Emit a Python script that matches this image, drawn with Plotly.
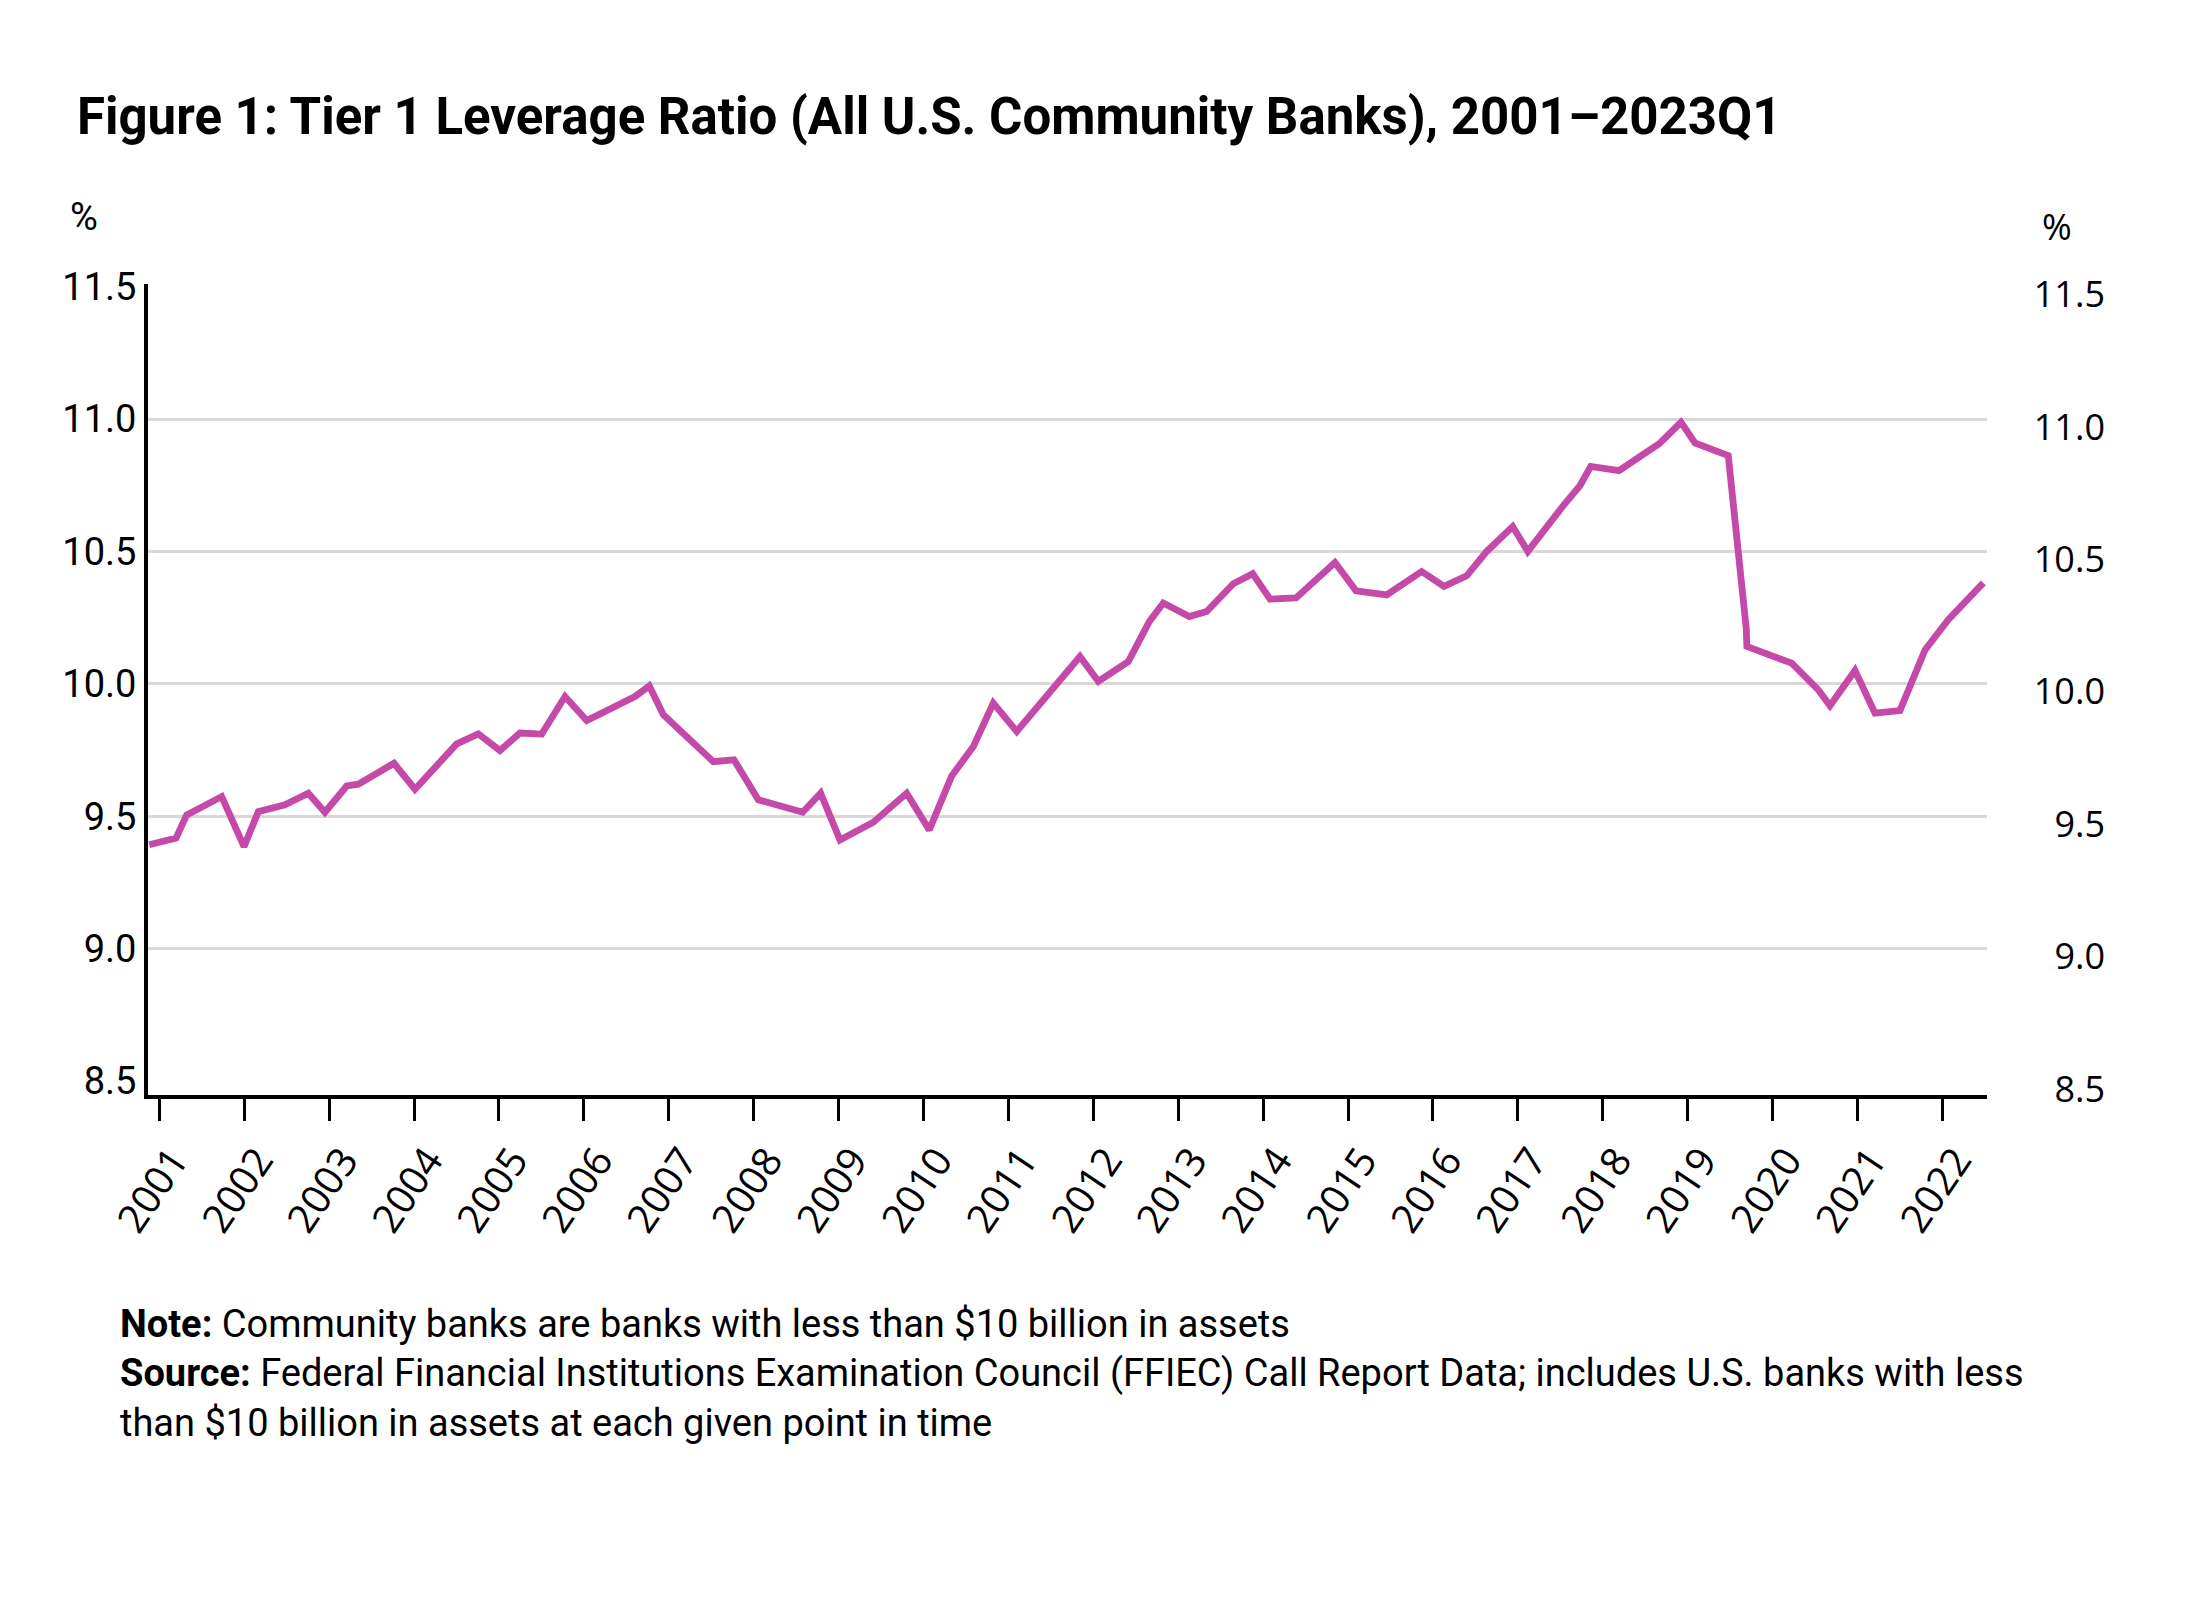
import plotly.graph_objects as go

# quarterly readings of the line (fractional year, percent)
years = [
    2000.882, 2001.197, 2001.323, 2001.735, 2001.998, 2002.166, 2002.480, 2002.755,
    2002.951, 2003.207, 2003.344, 2003.764, 2004.011, 2004.503, 2004.757, 2005.012,
    2005.248, 2005.504, 2005.778, 2006.034, 2006.602, 2006.771, 2006.936, 2007.525,
    2007.768, 2008.055, 2008.577, 2008.789, 2009.017, 2009.409, 2009.802, 2010.068,
    2010.332, 2010.587, 2010.822, 2011.098, 2011.843, 2012.059, 2012.412, 2012.659,
    2012.824, 2013.131, 2013.335, 2013.649, 2013.877, 2014.081, 2014.387, 2014.846,
    2015.094, 2015.455, 2015.867, 2016.130, 2016.398, 2016.633, 2016.939, 2017.117,
    2017.535, 2017.731, 2017.858, 2018.191, 2018.666, 2018.921, 2019.086, 2019.478,
    2019.690, 2019.697, 2020.225, 2020.539, 2020.676, 2020.970, 2021.206, 2021.500,
    2021.795, 2022.069, 2022.482,
]
ratio = [
    9.392, 9.417, 9.505, 9.574, 9.385, 9.517, 9.543, 9.587,
    9.515, 9.614, 9.621, 9.700, 9.602, 9.773, 9.811, 9.748,
    9.814, 9.810, 9.952, 9.861, 9.952, 9.992, 9.883, 9.706,
    9.713, 9.562, 9.515, 9.587, 9.410, 9.477, 9.587, 9.448,
    9.652, 9.763, 9.927, 9.820, 10.103, 10.009, 10.084, 10.235,
    10.305, 10.254, 10.273, 10.378, 10.416, 10.320, 10.324, 10.458,
    10.351, 10.336, 10.424, 10.368, 10.408, 10.500, 10.594, 10.500,
    10.673, 10.748, 10.821, 10.805, 10.907, 10.988, 10.910, 10.862,
    10.207, 10.141, 10.078, 9.977, 9.917, 10.050, 9.889, 9.899,
    10.128, 10.242, 10.381,
]

tick_years = list(range(2001, 2023))
tick_labels = [str(y) for y in tick_years]
y_ticks = [8.5, 9.0, 9.5, 10.0, 10.5, 11.0, 11.5]
grid_ticks = [9.0, 9.5, 10.0, 10.5, 11.0]

title = "Figure 1: Tier 1 Leverage Ratio (All U.S. Community Banks), 2001\u20132023Q1"
note = ("<b>Note:</b> Community banks are banks with less than $10 billion in assets<br>"
        "<b>Source:</b> Federal Financial Institutions Examination Council (FFIEC) Call Report Data; "
        "includes U.S. banks with less<br>than $10 billion in assets at each given point in time")

narrow = "Roboto, sans-serif"
wide = "Open Sans, Noto Sans, sans-serif"

fig = go.Figure()
fig.add_trace(go.Scatter(
    x=years, y=ratio, mode="lines",
    line=dict(color="#c549a9", width=6.8),
    showlegend=False, hoverinfo="skip",
))

yrange = [8.447, 11.51]

# page body adds an 8px offset, margins compensate
fig.update_layout(
    width=2197, height=1610,
    paper_bgcolor="white", plot_bgcolor="white",
    margin=dict(l=140, r=100, t=276, b=523),
    title=dict(text="<b>" + title + "</b>", xref="container", yref="container",
               x=69 / 2197, xanchor="left", y=1 - 108 / 1610, yanchor="middle",
               font=dict(family=narrow, size=51, color="black")),
    xaxis=dict(
        domain=[0, 0.9397], range=[2000.867, 2022.525],
        tickmode="array", tickvals=tick_years, ticktext=tick_labels,
        tickangle=-56, ticks="outside", ticklen=22, tickwidth=3, tickcolor="black",
        ticklabelshift=14, ticklabelstandoff=0,
        showline=True, linecolor="black", linewidth=3.5,
        showgrid=False, zeroline=False,
        tickfont=dict(family=wide, size=40, color="black"),
    ),
    yaxis=dict(
        range=yrange, tickmode="array", tickvals=y_ticks,
        ticktext=["%.1f" % v for v in y_ticks],
        showline=True, linecolor="black", linewidth=4,
        showgrid=False, zeroline=False, ticks="",
        tickfont=dict(family=narrow, size=38, color="black"),
    ),
    yaxis2=dict(
        overlaying="y", anchor="free", position=1.0, side="left",
        range=[yrange[0] + 0.03, yrange[1] + 0.03],
        tickmode="array", tickvals=y_ticks,
        ticktext=["%.1f" % v for v in y_ticks],
        showline=False, showgrid=False, zeroline=False, ticks="",
        tickfont=dict(family=wide, size=36, color="black"),
    ),
    yaxis3=dict(
        overlaying="y", anchor="x", range=yrange,
        tickmode="array", tickvals=grid_ticks, showticklabels=False,
        showgrid=True, gridcolor="#d8d8d8", gridwidth=3,
        showline=False, zeroline=False, ticks="",
    ),
)

fig.add_annotation(text="%", xref="paper", yref="paper", x=-0.0327, y=1.0826,
                   xanchor="center", yanchor="middle",
                   showarrow=False, font=dict(family=narrow, size=38, color="black"))
fig.add_annotation(text="%", xref="paper", yref="paper", x=0.9755, y=1.0715,
                   xanchor="center", yanchor="middle",
                   showarrow=False, font=dict(family=wide, size=36, color="black"))
fig.add_annotation(text=note, xref="paper", yref="paper", x=-0.0153, y=-0.2528,
                   xanchor="left", yanchor="top", align="left", showarrow=False,
                   font=dict(family="Roboto", size=38, color="black"))

# dummy traces so overlay axes are drawn
fig.add_trace(go.Scatter(x=[None], y=[None], yaxis="y2", showlegend=False))
fig.add_trace(go.Scatter(x=[None], y=[None], yaxis="y3", showlegend=False))

fig.write_html("out.html")
